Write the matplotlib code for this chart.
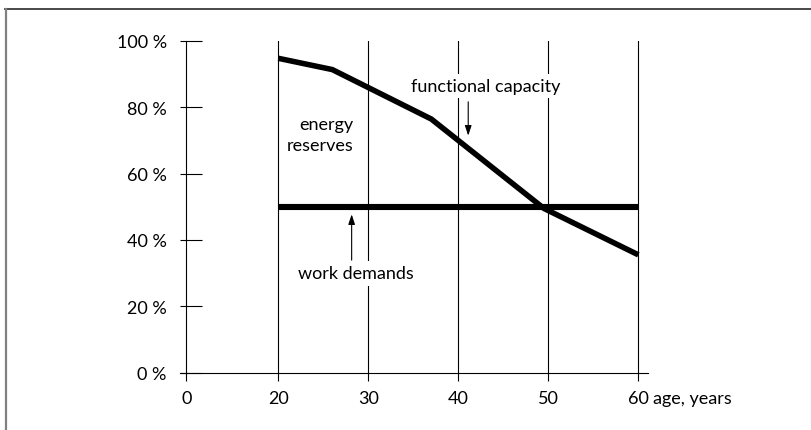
import numpy as np
import matplotlib
matplotlib.use("Agg")
import matplotlib.pyplot as plt
from matplotlib.lines import Line2D

# data
cap_ages = [20, 26, 37, 49.5, 60]
capacity = [94.7, 91.3, 76.4, 49.5, 35.5]
demand_ages = [20, 60]
demand = [50, 50]

x_ticks = [0, 20, 30, 40, 50, 60]
x_labels = ['0', '20', '30', '40', '50', '60']
y_ticks = [0, 20, 40, 60, 80, 100]
y_labels = [f'{v} %' for v in y_ticks]
grid_ages = [20, 30, 40, 50, 60]

plt.rcParams['font.family'] = ['Lato', 'DejaVu Sans']
FS = 13

# broken age axis: 0..20 squeezed, 20..60 linear
ZERO_POS = 9.78


def fwd(x):
    x = np.asarray(x, dtype=float)
    return np.where(x < 20, ZERO_POS + x * (20 - ZERO_POS) / 20, x)


def inv(u):
    u = np.asarray(u, dtype=float)
    return np.where(u < 20, (u - ZERO_POS) * 20 / (20 - ZERO_POS), u)


fig = plt.figure(figsize=(8.11, 4.31), dpi=100)
ax = fig.add_axes([180 / 811, 57.3 / 431, 467.7 / 811, 332 / 431])
ax.set_xscale('function', functions=(fwd, inv))
ax.set_xlim(float(inv(9.08)), 61.04)
ax.set_ylim(0, 100)

for a in grid_ages:
    ax.axvline(a, color='black', lw=0.8, zorder=1)

ax.plot(demand_ages, demand, color='black', lw=4.4, solid_capstyle='butt', zorder=3)
ax.plot(cap_ages, capacity, color='black', lw=4.0, solid_capstyle='butt',
        solid_joinstyle='miter', zorder=3)

for s in ['top', 'right']:
    ax.spines[s].set_visible(False)
ax.spines['left'].set_position(('data', 0))
ax.spines['left'].set_linewidth(0.8)
ax.spines['bottom'].set_linewidth(0.8)

ax.set_xticks(x_ticks)
ax.set_xticklabels(x_labels, fontsize=FS)
ax.xaxis.set_minor_locator(matplotlib.ticker.NullLocator())
ax.tick_params(axis='x', direction='out', length=5.8, width=0.8, pad=7)

ax.set_yticks(y_ticks)
ax.set_yticklabels(y_labels, fontsize=FS)
ax.yaxis.remove_overlapping_locs = False
ax.yaxis.set_minor_locator(matplotlib.ticker.FixedLocator(y_ticks))
ax.tick_params(axis='y', which='major', direction='in', length=11.5, width=0.8, pad=14)
ax.tick_params(axis='y', which='minor', direction='out', length=4.3, width=0.8)

# axis name sits right after the last tick label, on the same line
ax.text(61.66, -17.7 / 332, 'age, years', transform=ax.get_xaxis_transform(),
        ha='left', va='top', fontsize=FS)

# annotations
box = dict(facecolor='white', edgecolor='none', pad=3)
ax.text(43.0, 86.4, 'functional capacity', ha='center', va='center',
        fontsize=FS, bbox=box, zorder=4)
ax.text(28.33, 71.7, 'energy\nreserves', ha='right', va='center',
        multialignment='right', fontsize=FS, linespacing=1.4, zorder=4)
ax.text(28.63, 29.9, 'work demands', ha='center', va='center',
        fontsize=FS, bbox=box, zorder=4)

arrow = dict(arrowstyle='-|>,head_length=0.6,head_width=0.2', color='black',
             lw=0.8, shrinkA=0, shrinkB=0, mutation_scale=10)
ax.annotate('', xy=(41.1, 71.4), xytext=(41.1, 81.6), arrowprops=arrow, zorder=4)
ax.annotate('', xy=(28.15, 47.7), xytext=(28.15, 33.9), arrowprops=arrow, zorder=4)

# frame lines of the original picture
fig.add_artist(Line2D([5 / 811, 1], [1 - 9.5 / 431, 1 - 9.5 / 431],
                      color='#3a3a3a', lw=1.3))
fig.add_artist(Line2D([5.8 / 811, 5.8 / 811], [0, 1 - 9.5 / 431],
                      color='#808080', lw=1.6))

fig.savefig('out.png', dpi=100)
